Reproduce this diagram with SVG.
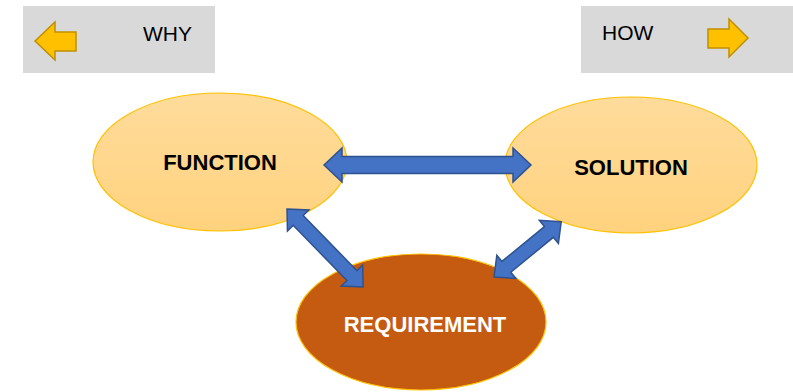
<svg xmlns="http://www.w3.org/2000/svg" width="793" height="392" viewBox="0 0 793 392">
<style>
.box{fill:#D9D9D9}
.garrow{fill:#FFC000;stroke:#BF9000;stroke-width:1.5}
.light{fill:url(#lg);stroke:#FFC000;stroke-width:1.2}
.dark{fill:#C55A11;stroke:#FFC000;stroke-width:1.2}
.barrow{fill:#4472C4;stroke:#2F528F;stroke-width:1.5}
.lbl{font-family:"Liberation Sans",Arial,sans-serif;font-size:21px;fill:#000}
.nl{font-family:"Liberation Sans",Arial,sans-serif;font-size:22px;font-weight:bold;text-anchor:middle}
</style>
<defs>
<linearGradient id="lg" x1="0" y1="0" x2="0" y2="1">
<stop offset="0" stop-color="#FFDC9C"/>
<stop offset="1" stop-color="#FFD27E"/>
</linearGradient>
</defs>
<rect width="793" height="392" fill="#fff"/>
<g id="why">
<rect class="box" x="23" y="6" width="192" height="67"/>
<path class="garrow" d="M35,41 L55,22 L55,32 L76,32 L76,51 L55,51 L55,60 Z"/>
<text class="lbl" x="143" y="41">WHY</text>
</g>
<g id="how">
<rect class="box" x="581" y="6" width="212" height="67"/>
<path class="garrow" d="M748,38 L729,19 L729,29 L708,29 L708,48 L729,48 L729,57 Z"/>
<text class="lbl" x="602" y="40">HOW</text>
</g>
<g id="function">
<ellipse class="light" cx="220" cy="162" rx="127" ry="69"/>
<text class="nl" x="220" y="170">FUNCTION</text>
</g>
<g id="solution">
<ellipse class="light" cx="631" cy="165" rx="126" ry="68"/>
<text class="nl" x="631" y="175">SOLUTION</text>
</g>
<g id="requirement">
<ellipse class="dark" cx="421" cy="322" rx="125" ry="68"/>
<text class="nl" x="425" y="332" fill="#fff">REQUIREMENT</text>
</g>
<g id="connectors">
<path class="barrow" transform="translate(324,165)" d="M0,0 L18,-17 L18,-8.5 L189,-8.5 L189,-17 L207,0 L189,17 L189,8.5 L18,8.5 L18,17 Z"/>
<path class="barrow" transform="translate(287,209) rotate(45.7)" d="M0,0 L16,-15 L16,-7 L93,-7 L93,-15 L109,0 L93,15 L93,7 L16,7 L16,15 Z"/>
<path class="barrow" transform="translate(494,277) rotate(-39.4)" d="M0,0 L16,-15 L16,-7 L71,-7 L71,-15 L87,0 L71,15 L71,7 L16,7 L16,15 Z"/>
</g>
</svg>
